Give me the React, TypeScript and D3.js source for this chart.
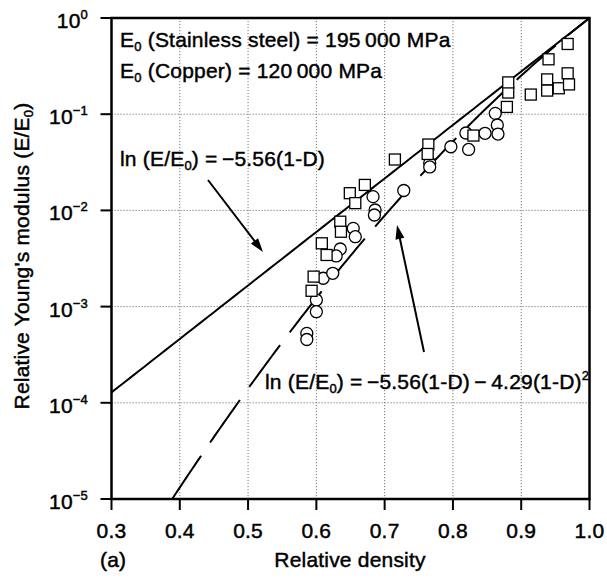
import React from "react";
import * as d3 from "d3";

// Axis ticks
const xTickValues = [0.3, 0.4, 0.5, 0.6, 0.7, 0.8, 0.9, 1.0];
const yExponents = [0, -1, -2, -3, -4, -5];

// Square markers: relative density vs E/E0
const squareDensity = [
  0.593, 0.596, 0.608, 0.615, 0.635, 0.636, 0.649, 0.657, 0.671, 0.715, 0.764, 0.763,
  0.83, 0.879, 0.881, 0.881, 0.914, 0.938, 0.938, 0.94, 0.955, 0.968, 0.968, 0.97,
];
const squareModulus = [
  0.00146, 0.00205, 0.00455, 0.00344, 0.00763, 0.006, 0.0151, 0.0119, 0.0184, 0.0338, 0.0484, 0.0386,
  0.06, 0.119, 0.168, 0.214, 0.16, 0.23, 0.176, 0.372, 0.186, 0.537, 0.266, 0.204,
];

// Circle markers: relative density vs E/E0
const circleDensity = [
  0.586, 0.586, 0.6, 0.6, 0.61, 0.624, 0.635, 0.629, 0.654, 0.657, 0.683, 0.686,
  0.685, 0.728, 0.766, 0.766, 0.797, 0.819, 0.823, 0.847, 0.862, 0.865, 0.866,
];
const circleModulus = [
  0.000527, 0.000455, 0.00117, 0.000885, 0.00197, 0.00222, 0.00397, 0.00336, 0.00651, 0.00533, 0.0139, 0.0101,
  0.00896, 0.0161, 0.0311, 0.0283, 0.0459, 0.0638, 0.043, 0.0633, 0.102, 0.0772, 0.0622,
];

// Fitted relations: log(E/E0) = -a(1-D) and -a(1-D) - b(1-D)^2
const linearCoef = 5.56;
const quadCoef = 4.29;

const W = 607;
const H = 579;
const left = 111.5;
const right = 589.5;
const top = 18;
const bottom = 499;

const FONT = "'Liberation Sans', Arial, Helvetica, sans-serif";
const FS = 21;
const SUB = 13;
const THIN = "\u2009";
const MINUS = "\u2212";

function arrowHead(x1: number, y1: number, x2: number, y2: number, len = 14, half = 4.5) {
  const a = Math.atan2(y2 - y1, x2 - x1);
  const bx = x2 - len * Math.cos(a);
  const by = y2 - len * Math.sin(a);
  const px = -Math.sin(a) * half;
  const py = Math.cos(a) * half;
  return `${x2},${y2} ${bx + px},${by + py} ${bx - px},${by - py}`;
}

function shaftEnd(a: { x1: number; y1: number; x2: number; y2: number }, back = 8) {
  const ang = Math.atan2(a.y2 - a.y1, a.x2 - a.x1);
  return { x: a.x2 - back * Math.cos(ang), y: a.y2 - back * Math.sin(ang) };
}

export default function App() {
  const x = d3.scaleLinear().domain([0.3, 1.0]).range([left, right]);
  const y = d3.scaleLog().domain([1e-5, 1]).range([bottom, top]);

  const linear = (D: number) => Math.pow(10, -linearCoef * (1 - D));
  const quad = (D: number) => Math.pow(10, -linearCoef * (1 - D) - quadCoef * (1 - D) * (1 - D));

  const solidD = d3.range(0.3, 1.0001, 0.01);
  const solidPath = d3
    .line<number>()
    .x((d) => x(d))
    .y((d) => y(linear(d)))(solidD);

  // start of the quadratic curve where it meets the bottom axis
  const startQ = 1 - (-linearCoef + Math.sqrt(linearCoef * linearCoef + 4 * quadCoef * 5)) / (2 * quadCoef);
  const quadD = d3.range(startQ, 1.0001, 0.005);
  const quadPath = d3
    .line<number>()
    .x((d) => x(d))
    .y((d) => y(quad(d)))(quadD);

  const sq = 11;
  const cr = 6;

  const a1 = { x1: 208, y1: 180, x2: 263, y2: 252 };
  const a2 = { x1: 424, y1: 352, x2: 397, y2: 225 };
  const e1 = shaftEnd(a1);
  const e2 = shaftEnd(a2);

  const textStyle = { stroke: "#000", strokeWidth: 0.45, letterSpacing: "0.2px" } as React.CSSProperties;

  return (
    <svg
      width={W}
      height={H}
      viewBox={`0 0 ${W} ${H}`}
      style={{ position: "absolute", left: 0, top: 0, background: "#fff" }}
      fontFamily={FONT}
    >
      <rect x={0} y={0} width={W} height={H} fill="#fff" />

      {/* grid */}
      <g stroke="#777" strokeWidth={1} strokeDasharray="1.2,1.8">
        {xTickValues.slice(1, -1).map((v) => (
          <line key={`gx${v}`} x1={x(v)} x2={x(v)} y1={top} y2={bottom} />
        ))}
        {yExponents.slice(1, -1).map((e) => (
          <line key={`gy${e}`} x1={left} x2={right} y1={y(Math.pow(10, e))} y2={y(Math.pow(10, e))} />
        ))}
      </g>

      {/* fitted curves */}
      <path d={solidPath || ""} fill="none" stroke="#000" strokeWidth={2} />
      <path d={quadPath || ""} fill="none" stroke="#000" strokeWidth={2} strokeDasharray="52,16" />

      {/* markers */}
      <g fill="#fff" stroke="#000" strokeWidth={1.3}>
        {circleDensity.map((d, i) => (
          <circle key={`c${i}`} cx={x(d)} cy={y(circleModulus[i])} r={cr} />
        ))}
        {squareDensity.map((d, i) => (
          <rect
            key={`s${i}`}
            x={x(d) - sq / 2}
            y={y(squareModulus[i]) - sq / 2}
            width={sq}
            height={sq}
          />
        ))}
      </g>

      {/* frame */}
      <rect x={left} y={top} width={right - left} height={bottom - top} fill="none" stroke="#000" strokeWidth={2.5} />

      {/* ticks */}
      <g stroke="#000" strokeWidth={2}>
        {xTickValues.map((v) => (
          <line key={`tx${v}`} x1={x(v)} x2={x(v)} y1={bottom} y2={bottom + 11} />
        ))}
        {yExponents.map((e) => (
          <line key={`ty${e}`} x1={left - 11} x2={left} y1={y(Math.pow(10, e))} y2={y(Math.pow(10, e))} />
        ))}
      </g>

      <g fill="#000" style={textStyle}>
        {/* tick labels */}
        <g fontSize={FS}>
          {xTickValues.map((v) => (
            <text key={`lx${v}`} x={x(v)} y={538} textAnchor="middle">
              {v.toFixed(1)}
            </text>
          ))}
          {yExponents.map((e) => (
            <text key={`ly${e}`} x={88} y={y(Math.pow(10, e)) + 10} textAnchor="end">
              10
              <tspan fontSize={SUB} dy={-9}>
                {e === 0 ? "0" : `${MINUS}${-e}`}
              </tspan>
            </text>
          ))}
        </g>

        {/* axis titles */}
        <text x={350} y={567} textAnchor="middle" fontSize={FS}>
          Relative density
        </text>
        <text x={100} y={567} fontSize={FS}>
          (a)
        </text>
        <text transform={`translate(29,256) rotate(-90)`} textAnchor="middle" fontSize={FS}>
          Relative Young's modulus (E/E
          <tspan fontSize={SUB} dy={4}>0</tspan>
          <tspan dy={-4}>)</tspan>
        </text>

        {/* reference moduli */}
        <text x={120} y={47} fontSize={FS}>
          E<tspan fontSize={SUB} dy={4}>0</tspan>
          <tspan dy={-4}> (Stainless steel) = 195{THIN}000 MPa</tspan>
        </text>
        <text x={120} y={78} fontSize={FS}>
          E<tspan fontSize={SUB} dy={4}>0</tspan>
          <tspan dy={-4}> (Copper) = 120{THIN}000 MPa</tspan>
        </text>

        {/* equation labels */}
        <text x={120} y={166} fontSize={FS}>
          ln (E/E<tspan fontSize={SUB} dy={4}>0</tspan>
          <tspan dy={-4}>) ={THIN}{MINUS}5.56(1-D)</tspan>
        </text>
        <text x={265} y={389} fontSize={FS}>
          ln (E/E<tspan fontSize={SUB} dy={4}>0</tspan>
          <tspan dy={-4}>) ={THIN}{MINUS}5.56(1-D){THIN}{MINUS}{THIN}4.29(1-D)</tspan>
          <tspan fontSize={SUB} dy={-9}>2</tspan>
        </text>
      </g>

      {/* arrows */}
      <g stroke="#000" strokeWidth={2}>
        <line x1={a1.x1} y1={a1.y1} x2={e1.x} y2={e1.y} />
        <line x1={a2.x1} y1={a2.y1} x2={e2.x} y2={e2.y} />
      </g>
      <polygon points={arrowHead(a1.x1, a1.y1, a1.x2, a1.y2)} fill="#000" />
      <polygon points={arrowHead(a2.x1, a2.y1, a2.x2, a2.y2)} fill="#000" />
    </svg>
  );
}
